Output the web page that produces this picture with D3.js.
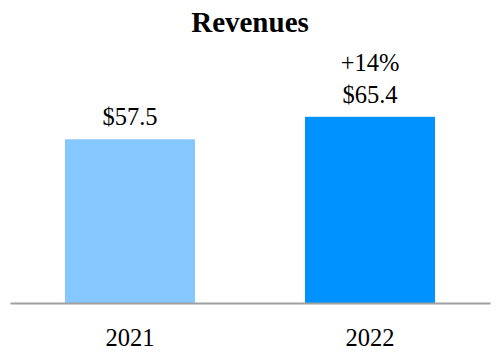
<!DOCTYPE html>
<html>
<head>
<meta charset="utf-8">
<script src="https://cdn.jsdelivr.net/npm/d3@7"></script>
<style>
  html, body { margin: 0; padding: 0; background: #fff; }
  svg { display: block; }
</style>
</head>
<body>
<svg id="chart" width="500" height="360"></svg>
<script>
const title = "Revenues";
const years = ["2021", "2022"];
const revenues = [57.5, 65.4];
const valueLabels = ["$57.5", "$65.4"];
const growthLabels = ["", "+14%"];
const barColors = ["#85C7FF", "#0093FF"];

const FONT = "'Liberation Serif', 'Times New Roman', Times, serif";

const svg = d3.select("#chart");
const baseY = 303;

const x = d3.scaleBand()
  .domain(years)
  .range([10, 490])
  .paddingInner(110 / 240)
  .paddingOuter(55 / 240);

const y = d3.scaleLinear()
  .domain([0, 70])
  .range([baseY, baseY - 70 * 2.847]);

const data = years.map((yr, i) => ({
  year: yr, value: revenues[i], label: valueLabels[i],
  growth: growthLabels[i], color: barColors[i]
}));

svg.append("text")
  .attr("x", 250).attr("y", 32)
  .attr("text-anchor", "middle")
  .attr("font-family", FONT)
  .attr("font-size", 29)
  .attr("font-weight", "bold")
  .attr("fill", "#000")
  .text(title);

svg.selectAll("rect.bar")
  .data(data).enter().append("rect")
  .attr("class", "bar")
  .attr("x", d => x(d.year))
  .attr("width", x.bandwidth())
  .attr("y", d => y(d.value))
  .attr("height", d => y(0) - y(d.value))
  .attr("fill", d => d.color);

const axis = d3.axisBottom(x).tickSize(0).tickPadding(0);
const ax = svg.append("g").attr("transform", `translate(0,${baseY})`).call(axis);
ax.attr("font-family", FONT).attr("font-size", 24.5);
ax.select(".domain").attr("stroke", "#A0A0A0").attr("stroke-width", 2);
ax.selectAll(".tick text")
  .attr("y", 43)
  .attr("dy", null)
  .attr("font-family", FONT)
  .attr("font-size", 24.5)
  .attr("fill", "#000");

svg.selectAll("text.val")
  .data(data).enter().append("text")
  .attr("class", "val")
  .attr("x", d => x(d.year) + x.bandwidth() / 2)
  .attr("y", d => y(d.value) - 14)
  .attr("text-anchor", "middle")
  .attr("font-family", FONT)
  .attr("font-size", 24.5)
  .attr("fill", "#000")
  .text(d => d.label);

svg.selectAll("text.growth")
  .data(data.filter(d => d.growth)).enter().append("text")
  .attr("class", "growth")
  .attr("x", d => x(d.year) + x.bandwidth() / 2)
  .attr("y", d => y(d.value) - 46)
  .attr("text-anchor", "middle")
  .attr("font-family", FONT)
  .attr("font-size", 24.5)
  .attr("fill", "#000")
  .text(d => d.growth);
</script>
</body>
</html>
